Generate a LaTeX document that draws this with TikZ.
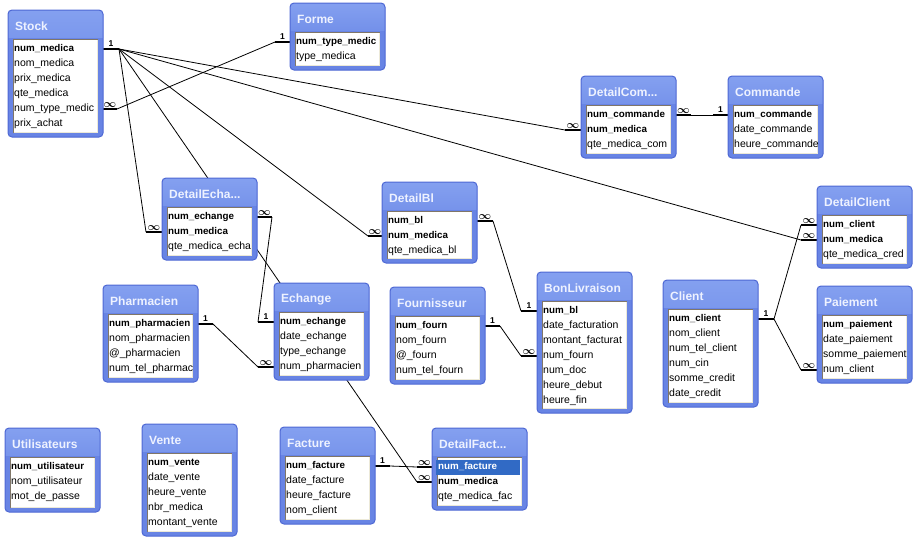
\documentclass[tikz,border=0pt]{standalone}
\usepackage{fontspec}
\setmainfont{Liberation Sans}
\usetikzlibrary{backgrounds}
\definecolor{tblframe}{RGB}{78,104,212}
\definecolor{tblbody}{RGB}{104,132,228}
\definecolor{ttltop}{RGB}{132,160,240}
\definecolor{ttlbot}{RGB}{92,122,224}
\definecolor{ttltext}{RGB}{238,242,255}
\definecolor{sunkdark}{RGB}{128,118,104}
\definecolor{sunklight}{RGB}{236,233,216}
\definecolor{selblue}{RGB}{49,106,197}

\begin{document}
\begin{tikzpicture}[x=1pt,y=-1pt,
  tbl/.style={draw=tblframe, line width=1pt, rounded corners=4pt, fill=tblbody,
    anchor=north west, minimum width=95pt, inner sep=0pt, outer sep=0pt,
    path picture={
      \fill[sharp corners, top color=ttltop, bottom color=ttlbot]
        (path picture bounding box.north west) rectangle ([yshift=-27pt]path picture bounding box.north east);
      \fill[sharp corners, white] ([xshift=5pt,yshift=-29pt]path picture bounding box.north west)
        rectangle ([xshift=-5pt,yshift=4pt]path picture bounding box.south east);
      \draw[sharp corners, sunkdark, line width=1pt]
        ([xshift=5.5pt,yshift=4pt]path picture bounding box.south west)
        |- ([xshift=-5pt,yshift=-29.5pt]path picture bounding box.north east);
      \draw[sharp corners, sunklight, line width=1pt]
        ([xshift=5.5pt,yshift=4.5pt]path picture bounding box.south west)
        -| ([xshift=-5.5pt,yshift=-29.5pt]path picture bounding box.north east);
    }},
  ttl/.style={anchor=west, inner sep=0pt, text=ttltext, font=\bfseries\fontsize{12}{14}\selectfont},
  fld/.style={anchor=west, inner sep=0pt, font=\fontsize{10.5}{12}\selectfont},
  key/.style={fld, font=\bfseries\fontsize{9.8}{12}\selectfont},
  link/.style={line width=0.8pt},
  stub/.style={line width=2.6pt},
  one/.style={midway, above=1pt, inner sep=0pt, font=\bfseries\fontsize{8.5}{8.5}\selectfont},
  many/.style={midway, above=0.5pt, inner sep=0pt, font=\fontsize{11}{11}\selectfont\boldmath}]
\useasboundingbox (0,0) rectangle (922,542);

% Stock
\node[tbl, minimum height=127pt] (stock) at (8,10) {};
\node[ttl] (stock-t) at (15,26) {Stock};
\node[key] (stock-1) at (14,49) {num\_medica};
\node[fld] (stock-2) at (14,64) {nom\_medica};
\node[fld] (stock-3) at (14,79) {prix\_medica};
\node[fld] (stock-4) at (14,94) {qte\_medica};
\node[fld] (stock-5) at (14,109) {num\_type\_medic};
\node[fld] (stock-6) at (14,124) {prix\_achat};

% Forme
\node[tbl, minimum height=67pt] (forme) at (290,3) {};
\node[ttl] (forme-t) at (297,19) {Forme};
\node[key] (forme-1) at (296,42) {num\_type\_medic};
\node[fld] (forme-2) at (296,57) {type\_medica};

% DetailCommande
\node[tbl, minimum height=82pt] (detcom) at (581,76) {};
\node[ttl] (detcom-t) at (588,92) {DetailCom...};
\node[key] (detcom-1) at (587,115) {num\_commande};
\node[key] (detcom-2) at (587,130) {num\_medica};
\node[fld] (detcom-3) at (587,145) {qte\_medica\_com};

% Commande
\node[tbl, minimum height=82pt] (commande) at (728,76) {};
\node[ttl] (commande-t) at (735,92) {Commande};
\node[key] (commande-1) at (734,115) {num\_commande};
\node[fld] (commande-2) at (734,130) {date\_commande};
\node[fld] (commande-3) at (734,145) {heure\_commande};

% DetailEchange
\node[tbl, minimum height=82pt] (detech) at (162,178) {};
\node[ttl] (detech-t) at (169,194) {DetailEcha...};
\node[key] (detech-1) at (168,217) {num\_echange};
\node[key] (detech-2) at (168,232) {num\_medica};
\node[fld] (detech-3) at (168,247) {qte\_medica\_echa};

% DetailBl
\node[tbl, minimum height=81pt] (detbl) at (382,182) {};
\node[ttl] (detbl-t) at (389,198) {DetailBl};
\node[key] (detbl-1) at (388,221) {num\_bl};
\node[key] (detbl-2) at (388,236) {num\_medica};
\node[fld] (detbl-3) at (388,251) {qte\_medica\_bl};

% DetailClient
\node[tbl, minimum height=82pt] (detcli) at (817,186) {};
\node[ttl] (detcli-t) at (824,202) {DetailClient};
\node[key] (detcli-1) at (823,225) {num\_client};
\node[key] (detcli-2) at (823,240) {num\_medica};
\node[fld] (detcli-3) at (823,255) {qte\_medica\_cred};

% Pharmacien
\node[tbl, minimum height=97pt] (pharm) at (103,285) {};
\node[ttl] (pharm-t) at (110,301) {Pharmacien};
\node[key] (pharm-1) at (109,324) {num\_pharmacien};
\node[fld] (pharm-2) at (109,339) {nom\_pharmacien};
\node[fld] (pharm-3) at (109,354) {@\_pharmacien};
\node[fld] (pharm-4) at (109,369) {num\_tel\_pharmac};

% Echange
\node[tbl, minimum height=97pt] (echange) at (274,283) {};
\node[ttl] (echange-t) at (281,299) {Echange};
\node[key] (echange-1) at (280,322) {num\_echange};
\node[fld] (echange-2) at (280,337) {date\_echange};
\node[fld] (echange-3) at (280,352) {type\_echange};
\node[fld] (echange-4) at (280,367) {num\_pharmacien};

% Fournisseur
\node[tbl, minimum height=97pt] (fourn) at (390,287) {};
\node[ttl] (fourn-t) at (397,303) {Fournisseur};
\node[key] (fourn-1) at (396,326) {num\_fourn};
\node[fld] (fourn-2) at (396,341) {nom\_fourn};
\node[fld] (fourn-3) at (396,356) {@\_fourn};
\node[fld] (fourn-4) at (396,371) {num\_tel\_fourn};

% BonLivraison
\node[tbl, minimum height=141pt] (bonliv) at (537,272) {};
\node[ttl] (bonliv-t) at (544,288) {BonLivraison};
\node[key] (bonliv-1) at (543,311) {num\_bl};
\node[fld] (bonliv-2) at (543,326) {date\_facturation};
\node[fld] (bonliv-3) at (543,341) {montant\_facturat};
\node[fld] (bonliv-4) at (543,356) {num\_fourn};
\node[fld] (bonliv-5) at (543,371) {num\_doc};
\node[fld] (bonliv-6) at (543,386) {heure\_debut};
\node[fld] (bonliv-7) at (543,401) {heure\_fin};

% Client
\node[tbl, minimum height=127pt] (client) at (663,280) {};
\node[ttl] (client-t) at (670,296) {Client};
\node[key] (client-1) at (669,319) {num\_client};
\node[fld] (client-2) at (669,334) {nom\_client};
\node[fld] (client-3) at (669,349) {num\_tel\_client};
\node[fld] (client-4) at (669,364) {num\_cin};
\node[fld] (client-5) at (669,379) {somme\_credit};
\node[fld] (client-6) at (669,394) {date\_credit};

% Paiement
\node[tbl, minimum height=97pt] (paiem) at (817,286) {};
\node[ttl] (paiem-t) at (824,302) {Paiement};
\node[key] (paiem-1) at (823,325) {num\_paiement};
\node[fld] (paiem-2) at (823,340) {date\_paiement};
\node[fld] (paiem-3) at (823,355) {somme\_paiement};
\node[fld] (paiem-4) at (823,370) {num\_client};

% Utilisateurs
\node[tbl, minimum height=84pt] (util) at (5,428) {};
\node[ttl] (util-t) at (12,444) {Utilisateurs};
\node[key] (util-1) at (11,467) {num\_utilisateur};
\node[fld] (util-2) at (11,482) {nom\_utilisateur};
\node[fld] (util-3) at (11,497) {mot\_de\_passe};

% Vente
\node[tbl, minimum height=112pt] (vente) at (142,424) {};
\node[ttl] (vente-t) at (149,440) {Vente};
\node[key] (vente-1) at (148,463) {num\_vente};
\node[fld] (vente-2) at (148,478) {date\_vente};
\node[fld] (vente-3) at (148,493) {heure\_vente};
\node[fld] (vente-4) at (148,508) {nbr\_medica};
\node[fld] (vente-5) at (148,523) {montant\_vente};

% Facture
\node[tbl, minimum height=97pt] (facture) at (280,427) {};
\node[ttl] (facture-t) at (287,443) {Facture};
\node[key] (facture-1) at (286,466) {num\_facture};
\node[fld] (facture-2) at (286,481) {date\_facture};
\node[fld] (facture-3) at (286,496) {heure\_facture};
\node[fld] (facture-4) at (286,511) {nom\_client};

% DetailFacture
\node[tbl, minimum height=82pt] (detfac) at (432,428) {};
\node[ttl] (detfac-t) at (439,444) {DetailFact...};
\node[key, fill=selblue, text=white, text width=80pt, align=left, inner xsep=2pt, minimum height=15pt] (detfac-1) at (436,467) {num\_facture};
\node[key] (detfac-2) at (438,482) {num\_medica};
\node[fld] (detfac-3) at (438,497) {qte\_medica\_fac};

\begin{scope}[on background layer]
  % Stock num_medica to the detail tables
  \draw[stub] (stock.east |- stock-1) -- ++(16,0) node[one] {1} coordinate (hub);
  \draw[stub] (detech.west |- detech-2) -- ++(-16,0) node[many] {$\infty$} coordinate (e1);
  \draw[stub] (detbl.west |- detbl-2) -- ++(-14,0) node[many] {$\infty$} coordinate (e2);
  \draw[stub] (detcom.west |- detcom-2) -- ++(-16,0) node[many] {$\infty$} coordinate (e3);
  \draw[stub] (detcli.west |- detcli-2) -- ++(-16,0) node[many] {$\infty$} coordinate (e4);
  \draw[stub] (detfac.west |- detfac-2) -- ++(-15,0) node[many] {$\infty$} coordinate (e5);
  \draw[link] (hub) -- (e1);
  \draw[link] (hub) -- (e2);
  \draw[link] (hub) -- (e3);
  \draw[link] (hub) -- (e4);
  \draw[link] (hub) -- (e5);
  % Stock - Forme
  \draw[stub] (stock.east |- stock-5) -- ++(14,0) node[many] {$\infty$} coordinate (f1);
  \draw[stub] (forme.west |- forme-1) -- ++(-15,0) node[one] {1} coordinate (f2);
  \draw[link] (f1) -- (f2);
  % DetailCommande - Commande
  \draw[stub] (detcom.east |- detcom-1) -- ++(15,0) node[many] {$\infty$} coordinate (c1);
  \draw[stub] (commande.west |- commande-1) -- ++(-15,0) node[one] {1} coordinate (c2);
  \draw[link] (c1) -- (c2);
  % DetailEchange - Echange
  \draw[stub] (detech.east |- detech-1) -- ++(15,0) node[many] {$\infty$} coordinate (x1);
  \draw[stub] (echange.west |- echange-1) -- ++(-16,0) node[one] {1} coordinate (x2);
  \draw[link] (x1) -- (x2);
  % Pharmacien - Echange
  \draw[stub] (pharm.east |- pharm-1) -- ++(15,0) node[one] {1} coordinate (p1);
  \draw[stub] (echange.west |- echange-4) -- ++(-16,0) node[many] {$\infty$} coordinate (p2);
  \draw[link] (p1) -- (p2);
  % DetailBl - BonLivraison
  \draw[stub] (detbl.east |- detbl-1) -- ++(16,0) node[many] {$\infty$} coordinate (b1);
  \draw[stub] (bonliv.west |- bonliv-1) -- ++(-16,0) node[one] {1} coordinate (b2);
  \draw[link] (b1) -- (b2);
  % Fournisseur - BonLivraison
  \draw[stub] (fourn.east |- fourn-1) -- ++(15,0) node[one] {1} coordinate (n1);
  \draw[stub] (bonliv.west |- bonliv-4) -- ++(-16,0) node[many] {$\infty$} coordinate (n2);
  \draw[link] (n1) -- (n2);
  % Client - DetailClient, Paiement
  \draw[stub] (client.east |- client-1) -- ++(16,0) node[one] {1} coordinate (k1);
  \draw[stub] (detcli.west |- detcli-1) -- ++(-16,0) node[many] {$\infty$} coordinate (k2);
  \draw[stub] (paiem.west |- paiem-4) -- ++(-16,0) node[many] {$\infty$} coordinate (k3);
  \draw[link] (k1) -- (k2);
  \draw[link] (k1) -- (k3);
  % Facture - DetailFacture
  \draw[stub] (facture.east |- facture-1) -- ++(15,0) node[one] {1} coordinate (a1);
  \draw[stub] (detfac.west |- detfac-1) -- ++(-15,0) node[many] {$\infty$} coordinate (a2);
  \draw[link] (a1) -- (a2);
\end{scope}
\end{tikzpicture}
\end{document}
